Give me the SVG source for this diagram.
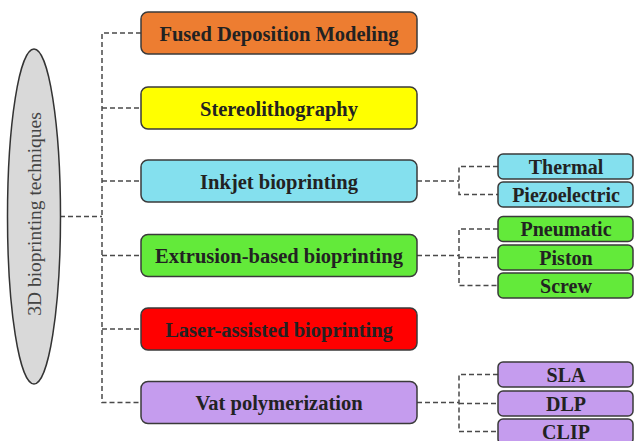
<svg xmlns="http://www.w3.org/2000/svg" width="634" height="441" viewBox="0 0 634 441">
  <style>
    .box { stroke: #3a3a3a; stroke-width: 1.5; }
    .lbl { font-family: "Liberation Serif", "Times New Roman", serif; font-weight: bold; fill: #222; text-anchor: middle; }
    .main { font-size: 20.5px; }
    .sub { font-size: 20px; }
    .link { fill: none; stroke: #4a4a4a; stroke-width: 1.5; stroke-dasharray: 5 3; }
    .fdm { fill: #ED7D31; }
    .sla { fill: #FFFF00; }
    .ink { fill: #84E0EE; }
    .ext { fill: #63EA3A; }
    .las { fill: #FF0000; }
    .vat { fill: #C59CEE; }
  </style>
  <rect width="634" height="441" fill="#ffffff"/>

  <!-- connectors -->
  <g id="connectors">
    <path class="link" d="M60 216.5 H102"/>
    <path class="link" d="M141 33 H102 V402.5 H141"/>
    <path class="link" d="M102 108 H141"/>
    <path class="link" d="M102 181 H141"/>
    <path class="link" d="M102 255.5 H141"/>
    <path class="link" d="M102 329 H141"/>
    <!-- inkjet branches -->
    <path class="link" d="M417 181 H459"/>
    <path class="link" d="M498 166.5 H459 V194.5 H498"/>
    <!-- extrusion branches -->
    <path class="link" d="M417 255.5 H459"/>
    <path class="link" d="M498 229 H459 V285.5 H498"/>
    <path class="link" d="M459 257.5 H498"/>
    <!-- vat branches -->
    <path class="link" d="M417 402.5 H459"/>
    <path class="link" d="M498 374.5 H459 V431.5 H498"/>
    <path class="link" d="M459 403.5 H498"/>
  </g>

  <!-- root -->
  <g id="root">
    <ellipse cx="34" cy="216.5" rx="26.5" ry="167.5" fill="#D9D9D9" stroke="#333" stroke-width="1.5"/>
    <text transform="translate(41 214) rotate(-90)" text-anchor="middle" font-family="Liberation Serif, Times New Roman, serif" font-size="19.5" fill="#444">3D bioprinting techniques</text>
  </g>

  <!-- main techniques -->
  <g id="fdm">
    <rect class="box fdm" x="141" y="12" width="276" height="42" rx="7"/>
    <text class="lbl main" x="279" y="40.5">Fused Deposition Modeling</text>
  </g>
  <g id="stereolithography">
    <rect class="box sla" x="141" y="87" width="276" height="42" rx="7"/>
    <text class="lbl main" x="279" y="115.5">Stereolithography</text>
  </g>
  <g id="inkjet">
    <rect class="box ink" x="141" y="160" width="276" height="42" rx="7"/>
    <text class="lbl main" x="279" y="188.5">Inkjet bioprinting</text>
  </g>
  <g id="extrusion">
    <rect class="box ext" x="141" y="234.5" width="276" height="42" rx="7"/>
    <text class="lbl main" x="279" y="263">Extrusion-based bioprinting</text>
  </g>
  <g id="laser">
    <rect class="box las" x="141" y="308" width="276" height="42" rx="7"/>
    <text class="lbl main" x="279" y="336.5">Laser-assisted bioprinting</text>
  </g>
  <g id="vat">
    <rect class="box vat" x="141" y="381.5" width="276" height="42" rx="7"/>
    <text class="lbl main" x="279" y="410">Vat polymerization</text>
  </g>

  <!-- sub techniques -->
  <g id="thermal">
    <rect class="box ink" x="498" y="154" width="135" height="25" rx="5"/>
    <text class="lbl sub" x="566" y="173.5">Thermal</text>
  </g>
  <g id="piezoelectric">
    <rect class="box ink" x="498" y="182" width="135" height="25" rx="5"/>
    <text class="lbl sub" x="566" y="201.5">Piezoelectric</text>
  </g>
  <g id="pneumatic">
    <rect class="box ext" x="498" y="216.5" width="135" height="25" rx="5"/>
    <text class="lbl sub" x="566" y="236">Pneumatic</text>
  </g>
  <g id="piston">
    <rect class="box ext" x="498" y="245" width="135" height="25" rx="5"/>
    <text class="lbl sub" x="566" y="264.5">Piston</text>
  </g>
  <g id="screw">
    <rect class="box ext" x="498" y="273" width="135" height="25" rx="5"/>
    <text class="lbl sub" x="566" y="292.5">Screw</text>
  </g>
  <g id="sla-sub">
    <rect class="box vat" x="498" y="362" width="135" height="25" rx="5"/>
    <text class="lbl sub" x="566" y="381.5">SLA</text>
  </g>
  <g id="dlp">
    <rect class="box vat" x="498" y="391" width="135" height="25" rx="5"/>
    <text class="lbl sub" x="566" y="410.5">DLP</text>
  </g>
  <g id="clip">
    <rect class="box vat" x="498" y="419" width="135" height="25" rx="5"/>
    <text class="lbl sub" x="566" y="438.5">CLIP</text>
  </g>
</svg>
